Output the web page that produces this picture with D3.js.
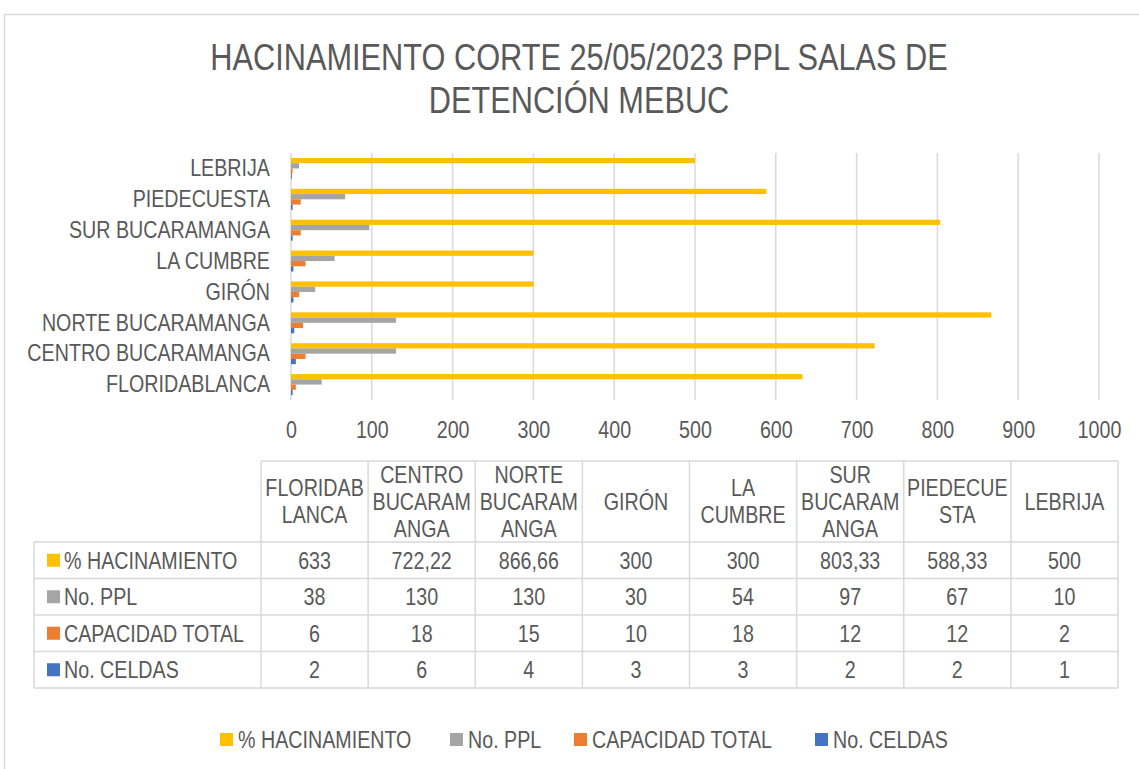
<!DOCTYPE html>
<html>
<head>
<meta charset="utf-8">
<script src="https://cdn.jsdelivr.net/npm/d3@7"></script>
<style>
  body { margin: 0; background: #fff; }
  svg text { font-family: "Liberation Sans", Arial, sans-serif; fill: #595959; }
</style>
</head>
<body>
<svg id="chart" width="1139" height="769"></svg>
<script>
// data
const categories = ["FLORIDABLANCA", "CENTRO BUCARAMANGA", "NORTE BUCARAMANGA", "GIRÓN ", "LA CUMBRE", "SUR BUCARAMANGA", "PIEDECUESTA", "LEBRIJA"]
const tableHeaders = [["FLORIDAB", "LANCA"], ["CENTRO", "BUCARAM", "ANGA"], ["NORTE", "BUCARAM", "ANGA"], ["GIRÓN"], ["LA", "CUMBRE"], ["SUR", "BUCARAM", "ANGA"], ["PIEDECUE", "STA"], ["LEBRIJA"]]
const hacinamiento = [633, 722.22, 866.66, 300, 300, 803.33, 588.33, 500]
const noPPL = [38, 130, 130, 30, 54, 97, 67, 10]
const capacidad = [6, 18, 15, 10, 18, 12, 12, 2]
const celdas = [2, 6, 4, 3, 3, 2, 2, 1]
const seriesNames = ["% HACINAMIENTO", "No. PPL", "CAPACIDAD TOTAL", "No. CELDAS"]
const xTicks = [0, 100, 200, 300, 400, 500, 600, 700, 800, 900, 1000]

const colors = ["#FFC000", "#A5A5A5", "#ED7D31", "#4472C4"]
const series = [hacinamiento, noPPL, capacidad, celdas]
const NARROW = 0.82 // no Arial Narrow installed, squeeze Liberation Sans instead
const FS = 24

const svg = d3.select("#chart")

// narrow text helper
function addText(parent, x, y, str, size, anchor = "start") {
    return parent.append("text")
        .attr("transform", `translate(${x},${y}) scale(${NARROW},1)`)
        .attr("dy", "0.35em")
        .attr("text-anchor", anchor)
        .style("font-size", size + "px")
        .text(str)
}

// chart frame
svg.append("rect")
    .attr("x", 4.5).attr("y", 14.5)
    .attr("width", 1160).attr("height", 800)
    .attr("fill", "none").attr("stroke", "#d9d9d9").attr("stroke-width", 1.5)

// title
addText(svg, 579, 57, "HACINAMIENTO CORTE 25/05/2023 PPL SALAS DE", 37.5, "middle")
addText(svg, 579, 100, "DETENCIÓN MEBUC", 37.5, "middle")

// scales
const x = d3.scaleLinear().domain([0, 1000]).range([291, 1099])
const y = d3.scaleBand()
    .domain(categories.slice().reverse())
    .range([153, 400])
    .paddingInner(0.32)
    .paddingOuter(0.16)
const yInner = d3.scaleBand()
    .domain(d3.range(series.length))
    .range([0, y.bandwidth()])

// gridlines
svg.append("g")
    .selectAll("line")
    .data(xTicks)
    .join("line")
    .attr("x1", d => x(d)).attr("x2", d => x(d))
    .attr("y1", 153).attr("y2", 400)
    .attr("stroke", "#d9d9d9").attr("stroke-width", 1.5)

// bars
series.forEach((vals, si) => {
    svg.append("g")
        .selectAll("rect")
        .data(categories)
        .join("rect")
        .attr("x", x(0))
        .attr("y", d => y(d) + yInner(si))
        .attr("width", (d, i) => x(vals[i]) - x(0))
        .attr("height", yInner.bandwidth())
        .attr("fill", colors[si])
})

// x axis labels
const xAxis = svg.append("g")
    .attr("transform", "translate(0,430)")
    .call(d3.axisBottom(x).tickValues(xTicks).tickFormat(d3.format("d")).tickSize(0).tickPadding(0))
xAxis.select(".domain").remove()
xAxis.selectAll("text")
    .attr("y", 0)
    .attr("dy", "0.35em")
    .attr("transform", `scale(${NARROW},1)`)
    .style("font-size", FS + "px")
    .attr("fill", "#595959")

// y axis labels
const yAxis = svg.append("g")
    .attr("transform", "translate(270,0)")
    .call(d3.axisLeft(y).tickSize(0).tickPadding(0))
yAxis.select(".domain").remove()
yAxis.selectAll("text")
    .attr("transform", `scale(${NARROW},1)`)
    .style("font-size", FS + "px")
    .attr("fill", "#595959")

// data table
const col = d3.scaleBand().domain(categories).range([261, 1118])
const row = d3.scaleBand().domain(seriesNames).range([542, 688])
const headTop = 461
const tableLeft = 34
const grid = "#d9d9d9"
const tbl = svg.append("g")

tbl.append("line")
    .attr("x1", col.range()[0]).attr("x2", col.range()[1])
    .attr("y1", headTop).attr("y2", headTop)
    .attr("stroke", grid).attr("stroke-width", 1.5)
tbl.selectAll(".hline")
    .data([542, ...seriesNames.map(s => row(s) + row.bandwidth())])
    .join("line")
    .attr("x1", tableLeft).attr("x2", col.range()[1])
    .attr("y1", d => d).attr("y2", d => d)
    .attr("stroke", grid).attr("stroke-width", 1.5)
tbl.append("line")
    .attr("x1", tableLeft).attr("x2", tableLeft)
    .attr("y1", 542).attr("y2", 688)
    .attr("stroke", grid).attr("stroke-width", 1.5)
tbl.selectAll(".vline")
    .data([...categories.map(c => col(c)), col.range()[1]])
    .join("line")
    .attr("x1", d => d).attr("x2", d => d)
    .attr("y1", headTop).attr("y2", 688)
    .attr("stroke", grid).attr("stroke-width", 1.5)

// header text
const lineH = 27
categories.forEach((c, i) => {
    const lines = tableHeaders[i]
    const cy = (headTop + 542) / 2
    lines.forEach((ln, j) => {
        addText(tbl, col(c) + col.bandwidth() / 2, cy + (j - (lines.length - 1) / 2) * lineH, ln, FS, "middle")
    })
})

// row labels and values
const fmt = v => String(v).replace(".", ",")
seriesNames.forEach((s, si) => {
    const cy = row(s) + row.bandwidth() / 2
    tbl.append("rect")
        .attr("x", 47).attr("y", cy - 6.5)
        .attr("width", 13).attr("height", 13)
        .attr("fill", colors[si])
    addText(tbl, 64, cy, s, FS)
    categories.forEach((c, i) => {
        addText(tbl, col(c) + col.bandwidth() / 2, cy, fmt(series[si][i]), FS, "middle")
    })
})

// legend
const legendX = [220, 450, 574, 815]
const legend = svg.append("g")
seriesNames.forEach((s, si) => {
    legend.append("rect")
        .attr("x", legendX[si]).attr("y", 733)
        .attr("width", 13).attr("height", 13)
        .attr("fill", colors[si])
    addText(legend, legendX[si] + 18, 740, s, FS)
})
</script>
</body>
</html>
